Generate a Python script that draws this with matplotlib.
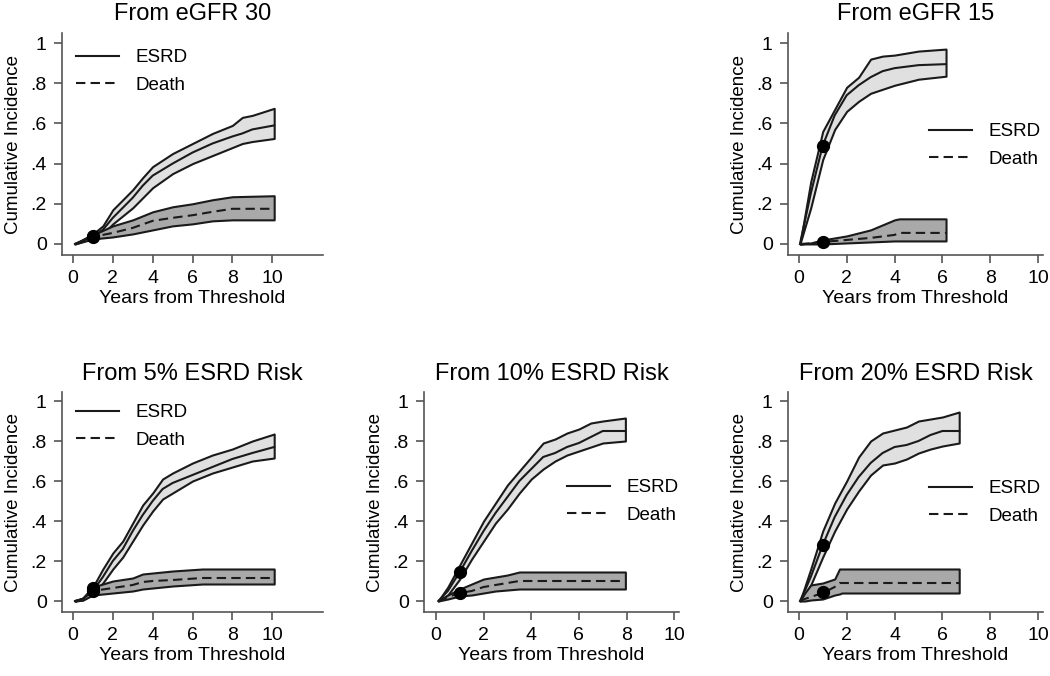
import matplotlib
matplotlib.use("Agg")
import matplotlib.pyplot as plt

plt.rcParams['font.family'] = ['Liberation Sans', 'DejaVu Sans']

# ---------------- data ----------------
titles = ["From eGFR 30", "From eGFR 15", "From 5% ESRD Risk",
          "From 10% ESRD Risk", "From 20% ESRD Risk"]
x_ticks = [0, 2, 4, 6, 8, 10]
y_ticks = [0, 0.2, 0.4, 0.6, 0.8, 1.0]
y_tick_labels = ["0", ".2", ".4", ".6", ".8", "1"]
legend_labels = ["ESRD", "Death"]

# Panel 1: eGFR 30
p1_esrd_t = [0.1, 1, 1.5, 2, 3, 3.5, 4, 5, 6, 7, 8, 8.5, 9, 10.1]
p1_esrd_est = [0, 0.04, 0.07, 0.13, 0.23, 0.29, 0.34, 0.40, 0.455, 0.50, 0.535, 0.55, 0.57, 0.59]
p1_esrd_lo = [0, 0.03, 0.05, 0.10, 0.18, 0.23, 0.28, 0.35, 0.40, 0.44, 0.48, 0.50, 0.51, 0.525]
p1_esrd_hi = [0, 0.05, 0.09, 0.17, 0.27, 0.33, 0.385, 0.45, 0.50, 0.55, 0.59, 0.63, 0.64, 0.675]
p1_death_t = [0.1, 1, 2, 3, 4, 5, 6, 7, 8, 10.1]
p1_death_est = [0, 0.035, 0.055, 0.08, 0.115, 0.13, 0.143, 0.16, 0.175, 0.175]
p1_death_lo = [0, 0.025, 0.035, 0.05, 0.07, 0.09, 0.10, 0.115, 0.12, 0.12]
p1_death_hi = [0, 0.045, 0.09, 0.12, 0.16, 0.185, 0.20, 0.22, 0.235, 0.24]
p1_dots = [0.04, 0.035]

# Panel 2: eGFR 15
p2_esrd_t = [0.05, 0.5, 1, 1.5, 2, 2.5, 3, 3.5, 4, 5, 6.15]
p2_esrd_est = [0, 0.25, 0.49, 0.64, 0.74, 0.79, 0.83, 0.86, 0.875, 0.89, 0.895]
p2_esrd_lo = [0, 0.18, 0.42, 0.57, 0.66, 0.71, 0.75, 0.77, 0.79, 0.82, 0.835]
p2_esrd_hi = [0, 0.31, 0.56, 0.67, 0.78, 0.83, 0.92, 0.935, 0.94, 0.96, 0.97]
p2_death_t = [0.05, 0.5, 1, 2, 3, 4, 4.2, 6.15]
p2_death_est = [0, 0.003, 0.01, 0.02, 0.03, 0.045, 0.055, 0.055]
p2_death_lo = [0, 0, 0, 0.005, 0.01, 0.015, 0.015, 0.015]
p2_death_hi = [0, 0.005, 0.02, 0.04, 0.07, 0.12, 0.125, 0.125]
p2_dots = [0.49, 0.01]

# Panel 3: 5% ESRD risk
p3_esrd_t = [0.1, 0.5, 1, 1.5, 2, 2.5, 3, 3.5, 4, 4.5, 5, 6, 7, 8, 9, 10.1]
p3_esrd_est = [0, 0.01, 0.05, 0.12, 0.20, 0.26, 0.35, 0.43, 0.50, 0.56, 0.59, 0.63, 0.67, 0.71, 0.74, 0.77]
p3_esrd_lo = [0, 0.005, 0.035, 0.09, 0.16, 0.22, 0.30, 0.38, 0.45, 0.51, 0.54, 0.60, 0.64, 0.67, 0.70, 0.715]
p3_esrd_hi = [0, 0.015, 0.07, 0.16, 0.24, 0.30, 0.39, 0.48, 0.54, 0.61, 0.64, 0.69, 0.73, 0.76, 0.80, 0.835]
p3_death_t = [0.1, 0.5, 1, 2, 3, 3.5, 4, 5, 6.5, 10.1]
p3_death_est = [0, 0.01, 0.05, 0.065, 0.08, 0.095, 0.10, 0.105, 0.115, 0.115]
p3_death_lo = [0, 0.005, 0.03, 0.04, 0.05, 0.06, 0.065, 0.075, 0.085, 0.085]
p3_death_hi = [0, 0.015, 0.07, 0.10, 0.115, 0.135, 0.14, 0.15, 0.16, 0.16]
p3_dots = [0.065, 0.05]

# Panel 4: 10% ESRD risk
p4_esrd_t = [0.1, 0.5, 1, 1.5, 2, 2.5, 3, 3.5, 4, 4.5, 5, 5.5, 6, 6.5, 7, 7.95]
p4_esrd_est = [0, 0.05, 0.145, 0.25, 0.35, 0.44, 0.52, 0.60, 0.66, 0.72, 0.74, 0.77, 0.79, 0.82, 0.85, 0.85]
p4_esrd_lo = [0, 0.03, 0.11, 0.21, 0.30, 0.39, 0.46, 0.54, 0.61, 0.66, 0.70, 0.73, 0.75, 0.77, 0.79, 0.80]
p4_esrd_hi = [0, 0.07, 0.18, 0.29, 0.40, 0.49, 0.58, 0.65, 0.72, 0.79, 0.81, 0.84, 0.86, 0.89, 0.90, 0.915]
p4_death_t = [0.1, 0.5, 1, 1.5, 2, 2.5, 3, 3.5, 7.95]
p4_death_est = [0, 0.02, 0.04, 0.05, 0.07, 0.08, 0.09, 0.10, 0.10]
p4_death_lo = [0, 0.01, 0.025, 0.03, 0.04, 0.05, 0.055, 0.06, 0.06]
p4_death_hi = [0, 0.03, 0.06, 0.085, 0.11, 0.12, 0.13, 0.145, 0.145]
p4_dots = [0.145, 0.04]

# Panel 5: 20% ESRD risk
p5_esrd_t = [0.05, 0.25, 0.5, 1, 1.5, 2, 2.5, 3, 3.5, 4, 4.5, 5, 5.5, 6, 6.7]
p5_esrd_est = [0, 0.05, 0.12, 0.28, 0.42, 0.53, 0.62, 0.69, 0.74, 0.77, 0.78, 0.80, 0.83, 0.85, 0.85]
p5_esrd_lo = [0, 0.03, 0.08, 0.22, 0.35, 0.46, 0.55, 0.63, 0.68, 0.69, 0.71, 0.74, 0.76, 0.775, 0.79]
p5_esrd_hi = [0, 0.07, 0.16, 0.35, 0.49, 0.60, 0.72, 0.80, 0.84, 0.855, 0.87, 0.90, 0.91, 0.92, 0.945]
p5_death_t = [0.05, 0.25, 0.5, 1, 1.5, 1.7, 1.8, 6.7]
p5_death_est = [0, 0.01, 0.02, 0.04, 0.07, 0.09, 0.09, 0.09]
p5_death_lo = [0, 0.0, 0.005, 0.01, 0.03, 0.035, 0.04, 0.04]
p5_death_hi = [0, 0.04, 0.08, 0.09, 0.11, 0.16, 0.16, 0.16]
p5_dots = [0.28, 0.045]

dot_x = 1.0

panels = [
    (p1_esrd_t, p1_esrd_est, p1_esrd_lo, p1_esrd_hi, p1_death_t, p1_death_est, p1_death_lo, p1_death_hi, p1_dots),
    (p2_esrd_t, p2_esrd_est, p2_esrd_lo, p2_esrd_hi, p2_death_t, p2_death_est, p2_death_lo, p2_death_hi, p2_dots),
    (p3_esrd_t, p3_esrd_est, p3_esrd_lo, p3_esrd_hi, p3_death_t, p3_death_est, p3_death_lo, p3_death_hi, p3_dots),
    (p4_esrd_t, p4_esrd_est, p4_esrd_lo, p4_esrd_hi, p4_death_t, p4_death_est, p4_death_lo, p4_death_hi, p4_dots),
    (p5_esrd_t, p5_esrd_est, p5_esrd_lo, p5_esrd_hi, p5_death_t, p5_death_est, p5_death_lo, p5_death_hi, p5_dots),
]

# ---------------- layout ----------------
W, H = 1050, 676
fig = plt.figure(figsize=(W / 100, H / 100), dpi=100)
fig.patch.set_facecolor('white')

def px_axes(left, right, top, bottom):
    return [left / W, 1 - bottom / H, (right - left) / W, (bottom - top) / H]

axes_rects = [
    px_axes(62, 323, 33, 255),
    px_axes(788, 1043, 33, 255),
    px_axes(62, 323, 392, 612),
    px_axes(424, 679, 392, 612),
    px_axes(788, 1043, 392, 612),
]
xlims = [(-0.55, 12.55), (-0.45, 10.2), (-0.55, 12.55), (-0.5, 10.2), (-0.45, 10.2)]
ylims = [(-0.055, 1.05), (-0.055, 1.05), (-0.055, 1.045), (-0.055, 1.045), (-0.055, 1.045)]
legend_anchor = [(0.054, 0.827), (0.553, 0.493), (0.054, 0.843), (0.561, 0.502), (0.553, 0.498)]

LIGHT = '#e0e0e0'
DARK = '#a9a9a9'
LINE = '#1a1a1a'
AXC = '#555555'
LW = 1.5
DASH = (4.5, 2.5)

for i, (rect, data) in enumerate(zip(axes_rects, panels)):
    et, ee, el, eh, dt, de, dl, dh, dots = data
    ax = fig.add_axes(rect)
    ax.fill_between(et, el, eh, facecolor=LIGHT, edgecolor=LINE, linewidth=LW, zorder=2)
    ax.fill_between(dt, dl, dh, facecolor=DARK, edgecolor=LINE, linewidth=LW, zorder=3)
    l1, = ax.plot(et, ee, color=LINE, lw=LW, zorder=4)
    l2, = ax.plot(dt, de, color=LINE, lw=LW, dashes=DASH, zorder=4)
    ax.plot([dot_x, dot_x], dots, linestyle='none', marker='o', markersize=8.5,
            color='black', zorder=5)

    ax.set_xlim(*xlims[i])
    ax.set_ylim(*ylims[i])
    ax.set_xticks(x_ticks)
    ax.set_yticks(y_ticks)
    ax.set_yticklabels(y_tick_labels)
    for s in ['top', 'right']:
        ax.spines[s].set_visible(False)
    for s in ['left', 'bottom']:
        ax.spines[s].set_color(AXC)
        ax.spines[s].set_linewidth(1.2)
    ax.tick_params(axis='both', direction='out', length=6, width=1.2, color=AXC,
                   labelsize=14, labelcolor='black', pad=5)
    ax.set_xlabel("Years from Threshold", fontsize=14, labelpad=2)
    ax.set_ylabel("Cumulative Incidence", fontsize=13.5, labelpad=6)
    ax.set_title(titles[i], fontsize=17, pad=9)

    ax.legend([l1, l2], legend_labels, loc='center left',
              bbox_to_anchor=legend_anchor[i], frameon=False, fontsize=13.5,
              handlelength=2.3, handletextpad=0.85, labelspacing=0.55,
              borderpad=0, borderaxespad=0)

fig.savefig("out.png", dpi=100, facecolor='white')
